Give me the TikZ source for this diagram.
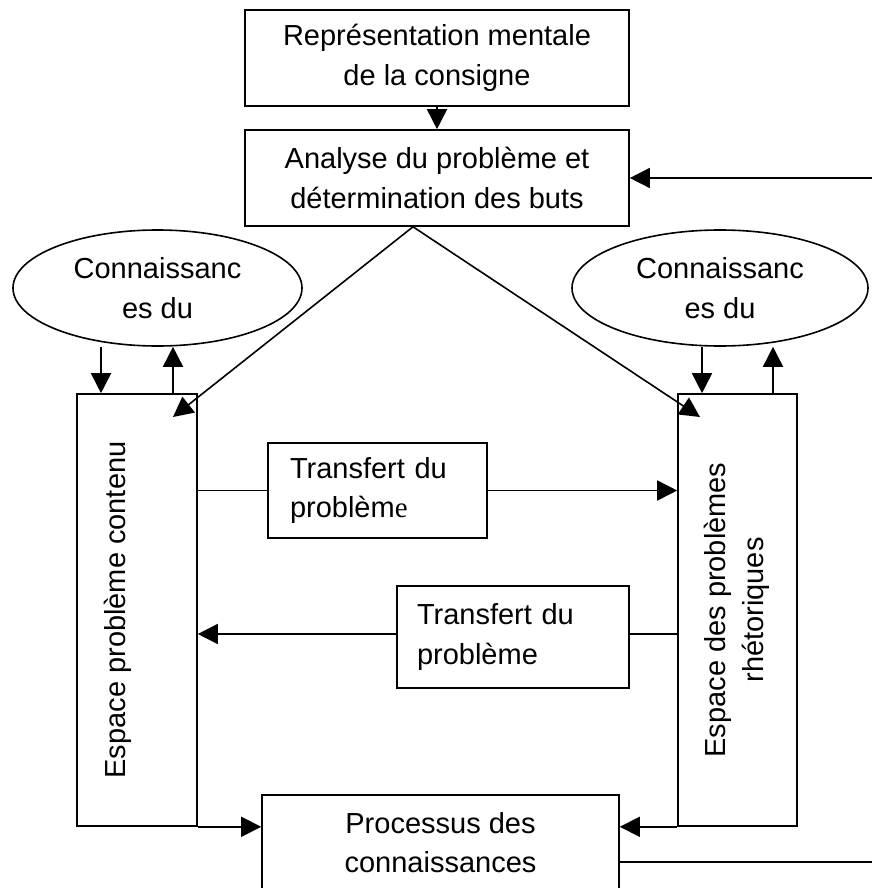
\documentclass[tikz,border=0pt]{standalone}
\usepackage{fontspec}
\setmainfont{Liberation Sans}
\newfontfamily\seriffont{Liberation Serif}
\usetikzlibrary{arrows.meta,shapes.geometric}
\begin{document}
\begin{tikzpicture}[x=1pt,y=-1pt,
  font=\fontsize{29}{39.5}\selectfont,
  line width=1.6pt,
  box/.style={draw,rectangle,inner sep=0pt,align=center},
  oval/.style={draw,ellipse,inner sep=0pt,align=center,
               minimum height=116pt},
  tall/.style={draw,rectangle,inner sep=0pt,minimum height=432pt},
  vtext/.style={rotate=90,anchor=base,inner sep=0pt},
  arr/.style={-{Triangle[length=20pt,width=20pt]}}]
\useasboundingbox (0,0) rectangle (872,888);
\fill[white] (0,0) rectangle (872,888);
\clip (0,0) rectangle (872,888);

% top chain
\node[box,minimum width=384pt,minimum height=96pt] (consigne) at (437,58)
  {Représentation mentale\\de la consigne};
\node[box,minimum width=384pt,minimum height=96pt] (analyse) at (437,178)
  {Analyse du problème et\\détermination des buts};

% knowledge ellipses
\node[oval,minimum width=289pt] (connL) at (157.5,288) {Connaissanc\\es du};
\node[oval,minimum width=296pt] (connR) at (720,288) {Connaissanc\\es du};

% problem spaces
\node[tall,minimum width=120pt] (espC) at (137,610) {};
\node[vtext] (espCt) at (125,610) {Espace problème contenu};
\node[tall,minimum width=119pt] (espR) at (737.5,610) {};
\node[vtext] (espRt1) at (725,610) {Espace des problèmes};
\node[vtext] (espRt2) at (763,610) {rhétoriques};

% transfer boxes
\node[box,minimum width=219pt,minimum height=95pt,text width=175pt,
      align=left,inner xsep=22pt] (tr1) at (377.5,490.5)
  {Transfert du\\problèm{\seriffont e}};
\node[box,minimum width=232pt,minimum height=102pt,text width=192pt,
      align=left,inner xsep=20pt] (tr2) at (513,637)
  {Transfert du\\problème};

% knowledge process (runs past the lower edge)
\node[box,minimum width=357pt,minimum height=95pt] (proc) at (440.5,842.5)
  {Processus des\\connaissances};

% connectors
\coordinate (fb) at (872,178);
\coordinate (tipL) at (173,417);
\coordinate (tipR) at (700,417);
\coordinate (out) at (872,862);

\draw[arr] (consigne) -- (analyse);
\draw[arr] (fb) -- (analyse.east);
\draw[arr] ([xshift=-24pt]analyse.south) -- (tipL);
\draw[arr] ([xshift=-24pt]analyse.south) -- (tipR);

\draw[arr] ([xshift=-56.5pt]connL.south) -- ([xshift=-36pt]espC.north);
\draw[arr] ([xshift=36pt]espC.north) -- ([xshift=15.5pt]connL.south);
\draw[arr] ([xshift=-18pt]connR.south) -- ([xshift=-35.5pt]espR.north);
\draw[arr] ([xshift=35.5pt]espR.north) -- ([xshift=53pt]connR.south);

\draw (tr1.west -| espC.east) -- (tr1.west);
\draw[arr] (tr1.east) -- (tr1.east -| espR.west);
\draw ([yshift=3pt]tr2.east -| espR.west) -- ([yshift=3pt]tr2.east);
\draw[arr] ([yshift=3pt]tr2.west) -- ([yshift=3pt]tr2.west -| espC.east);

\draw[arr] (espC.south east) -- (espC.south east -| proc.west);
\draw[arr] (espR.south west) -- (espR.south west -| proc.east);
\draw (out -| proc.east) -- (out);
\end{tikzpicture}
\end{document}
